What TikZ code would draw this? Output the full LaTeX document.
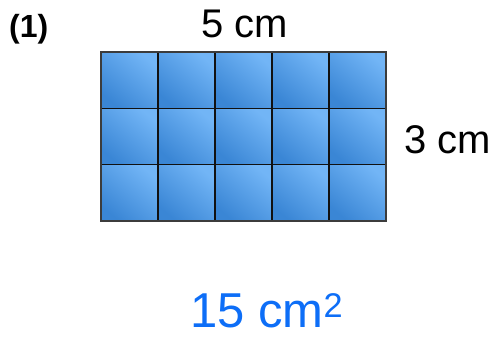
\documentclass[tikz,border=0pt]{standalone}
\usepackage{fontspec}
\setmainfont{Liberation Sans}
\definecolor{celldark}{HTML}{3A86D5}
\definecolor{celllight}{HTML}{72B5F6}
\definecolor{ink}{HTML}{0D6EF7}
\definecolor{gridline}{HTML}{111111}
\definecolor{outline}{HTML}{3C3C3C}
\tikzset{
  cell/.style={top color=celllight, bottom color=celldark, shading angle=-40},
  label/.style={font=\fontsize{40}{40}\selectfont, inner sep=0pt, anchor=base},
}
\begin{document}
\begin{tikzpicture}[x=1pt,y=-1pt]
\useasboundingbox (0,0) rectangle (499,338);
\foreach \i in {0,...,4}{
  \foreach \j in {0,...,2}{
    \shade[cell] (101+57*\i,52+56.3*\j) rectangle (158+57*\i,108.3+56.3*\j);
  }
}
\foreach \i in {1,...,4}{
  \draw[gridline, line width=1.5pt] (101+57*\i,52) -- (101+57*\i,221);
}
\foreach \j in {1,2}{
  \draw[gridline, line width=1.5pt] (101,52+56.3*\j) -- (386,52+56.3*\j);
}
\draw[outline, line width=1.6pt] (101,52) rectangle (386,221);
\node[inner sep=0pt, anchor=base west] (num) at (9,37) {\fontsize{32}{32}\selectfont\bfseries (1)};
\node[label] (top) at (245,37) {5 cm};
\node[label] (side) at (447.5,153) {3 cm};
\node[inner sep=0pt, anchor=base west, text=ink] (ans) at (190,327) {\fontsize{49}{49}\selectfont 15 cm\textsuperscript{2}};
\end{tikzpicture}
\end{document}
